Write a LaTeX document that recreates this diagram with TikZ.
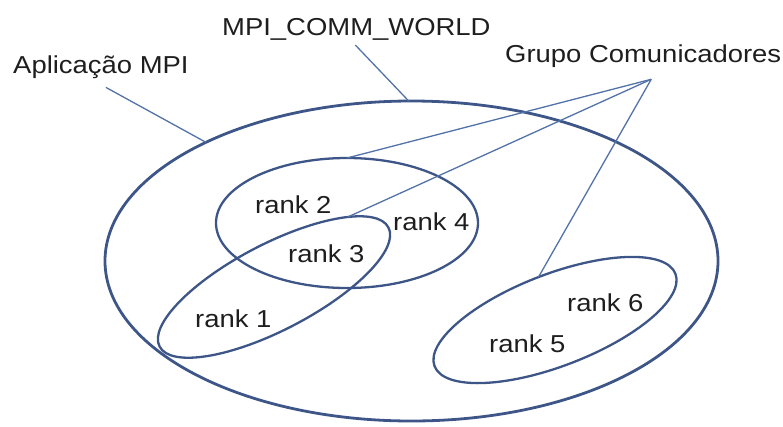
\documentclass[tikz,border=0pt]{standalone}
\usepackage{fontspec}
\setmainfont[FakeStretch=1.12]{Liberation Sans}
\usetikzlibrary{shapes.geometric}
\definecolor{ringcol}{RGB}{62,86,135}
\definecolor{leadcol}{RGB}{82,114,168}
\definecolor{txtcol}{RGB}{30,30,30}
\tikzset{
  ring/.style={ellipse, draw=ringcol, inner sep=0pt, outer sep=0pt},
  lbl/.style={anchor=base west, inner sep=0pt, text=txtcol,
              font=\fontsize{24.5}{29}\selectfont},
  leader/.style={draw=leadcol, line width=1.3pt},
}
\begin{document}
\begin{tikzpicture}[x=1pt, y=-1pt]
  \useasboundingbox (0,0) rectangle (783,426);

  % communicator regions
  \node[ring, line width=2.8pt, minimum width=613pt, minimum height=320pt] (world) at (411.5,261) {};
  \node[ring, line width=2.3pt, minimum width=262pt, minimum height=130pt] (grpA) at (347,223) {};
  \node[ring, line width=2.3pt, minimum width=258pt, minimum height=86pt, rotate=27.5] (grpB) at (274,287) {};
  \node[ring, line width=2.3pt, minimum width=258pt, minimum height=92pt, rotate=21] (grpC) at (555,320) {};

  % process labels
  \node[lbl] (r2) at (255,213) {rank 2};
  \node[lbl] (r4) at (393,230) {rank 4};
  \node[lbl] (r3) at (288,262) {rank 3};
  \node[lbl] (r1) at (195,327) {rank 1};
  \node[lbl] (r6) at (567,311) {rank 6};
  \node[lbl] (r5) at (489,352) {rank 5};

  % captions
  \node[lbl] (app) at (13,73) {Aplicação MPI};
  \node[lbl] (comm) at (222,35) {MPI\_COMM\_WORLD};
  \node[lbl] (grp) at (505,62) {Grupo Comunicadores};

  \coordinate (appfoot) at ([xshift=5pt, yshift=-9pt]app.south);
  \coordinate (commfoot) at ([xshift=-1pt, yshift=-5pt]comm.south);
  \coordinate (grpfoot) at ([xshift=8pt, yshift=-12pt]grp.south);

  % leader lines
  \draw[leader] (appfoot) -- (world.150);
  \draw[leader] (commfoot) -- (world.91);
  \draw[leader] (grpfoot) -- (grpA.north);
  \draw[leader] (grpfoot) -- (grpB.16);
  \draw[leader] (grpfoot) -- (grpC.north);
\end{tikzpicture}
\end{document}
